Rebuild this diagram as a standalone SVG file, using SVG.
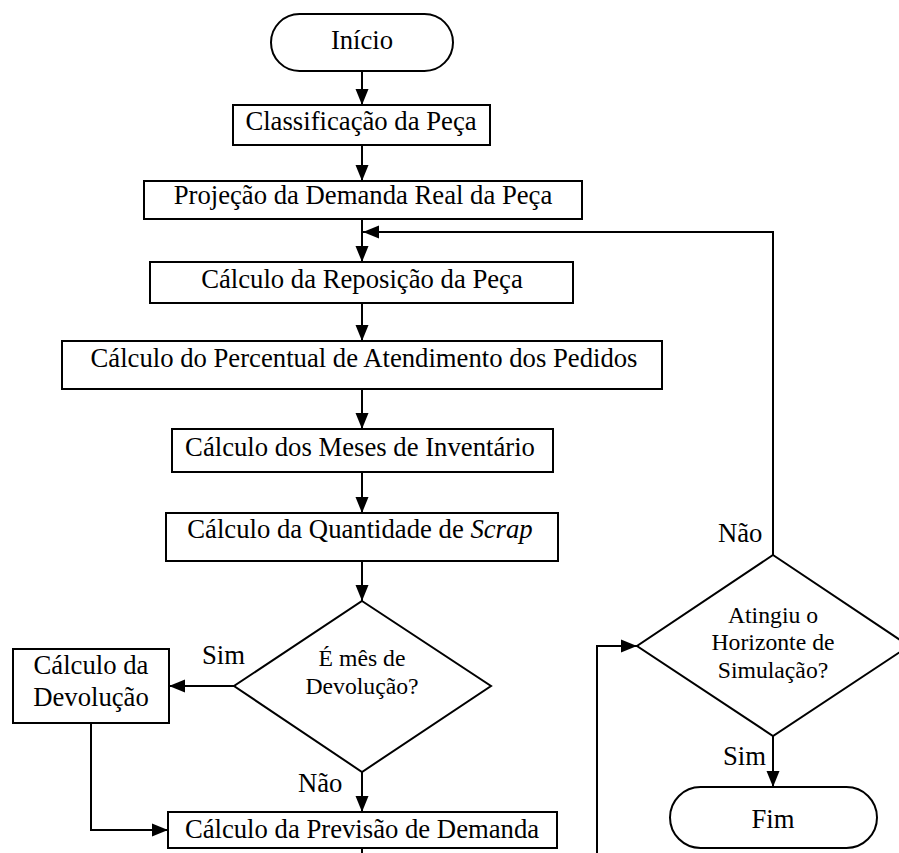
<svg xmlns="http://www.w3.org/2000/svg" width="899" height="853" viewBox="0 0 899 853">
<style>
.n{fill:#fff;stroke:#000;stroke-width:2}
.c{fill:none;stroke:#000;stroke-width:2}
text{font-family:"Liberation Serif","Times New Roman",serif;font-size:26.7px;fill:#000}
.m{text-anchor:middle}
.d{font-size:23.7px}
</style>
<defs>
<marker id="ah" markerUnits="userSpaceOnUse" markerWidth="16" markerHeight="14" refX="16" refY="7" orient="auto">
<path d="M0,0.5 L16,7 L0,13.5 z" fill="#000"/>
</marker>
</defs>
<rect width="899" height="853" fill="#fff"/>
<g id="connectors">
<path class="c" d="M362,71 V105" marker-end="url(#ah)"/>
<path class="c" d="M362,145 V181" marker-end="url(#ah)"/>
<path class="c" d="M362,219 V262" marker-end="url(#ah)"/>
<path class="c" d="M773,555 V232 H363" marker-end="url(#ah)"/>
<path class="c" d="M362,303 V341" marker-end="url(#ah)"/>
<path class="c" d="M362,389 V429" marker-end="url(#ah)"/>
<path class="c" d="M362,472 V513" marker-end="url(#ah)"/>
<path class="c" d="M362,561 V601" marker-end="url(#ah)"/>
<path class="c" d="M234,686 H169" marker-end="url(#ah)"/>
<path class="c" d="M362,772 V812" marker-end="url(#ah)"/>
<path class="c" d="M91,723 V830 H168" marker-end="url(#ah)"/>
<path class="c" d="M362,848 V853"/>
<path class="c" d="M597,853 V646 H637" marker-end="url(#ah)"/>
<path class="c" d="M773,736 V787" marker-end="url(#ah)"/>
<text x="202" y="664">Sim</text>
<text x="298" y="792">Não</text>
<text x="718" y="542">Não</text>
<text x="723" y="765">Sim</text>
</g>
<g id="inicio">
<rect class="n" x="271" y="14" width="182" height="57" rx="28.5"/>
<text class="m" x="362" y="49">Início</text>
</g>
<g id="classificacao">
<rect class="n" x="233" y="105" width="257" height="40"/>
<text class="m" x="361" y="130">Classificação da Peça</text>
</g>
<g id="projecao">
<rect class="n" x="144" y="181" width="438" height="38"/>
<text class="m" x="363" y="204">Projeção da Demanda Real da Peça</text>
</g>
<g id="reposicao">
<rect class="n" x="150" y="262" width="423" height="41"/>
<text class="m" x="362" y="288">Cálculo da Reposição da Peça</text>
</g>
<g id="percentual">
<rect class="n" x="62" y="341" width="600" height="48"/>
<text class="m" x="364" y="366.5">Cálculo do Percentual de Atendimento dos Pedidos</text>
</g>
<g id="meses">
<rect class="n" x="172" y="429" width="381" height="43"/>
<text class="m" x="360" y="456">Cálculo dos Meses de Inventário</text>
</g>
<g id="scrap">
<rect class="n" x="166" y="513" width="392" height="48"/>
<text class="m" x="360" y="538">Cálculo da Quantidade de <tspan font-style="italic">Scrap</tspan></text>
</g>
<g id="mes-devolucao">
<polygon class="n" points="362,601 491,686 362,772 234,686"/>
<text class="m d" x="362" y="666">É mês de</text>
<text class="m d" x="362" y="694">Devolução?</text>
</g>
<g id="devolucao">
<rect class="n" x="13" y="649" width="156" height="74"/>
<text class="m" x="91" y="674">Cálculo da</text>
<text class="m" x="91" y="706">Devolução</text>
</g>
<g id="previsao">
<rect class="n" x="168" y="812" width="389" height="36"/>
<text class="m" x="362" y="838">Cálculo da Previsão de Demanda</text>
</g>
<g id="horizonte">
<polygon class="n" points="773,555 909,646 773,736 637,646"/>
<text class="m d" x="773" y="623">Atingiu o</text>
<text class="m d" x="773" y="650">Horizonte de</text>
<text class="m d" x="773" y="678">Simulação?</text>
</g>
<g id="fim">
<rect class="n" x="670" y="787" width="207" height="61" rx="30.5"/>
<text class="m" x="773" y="828">Fim</text>
</g>
</svg>
